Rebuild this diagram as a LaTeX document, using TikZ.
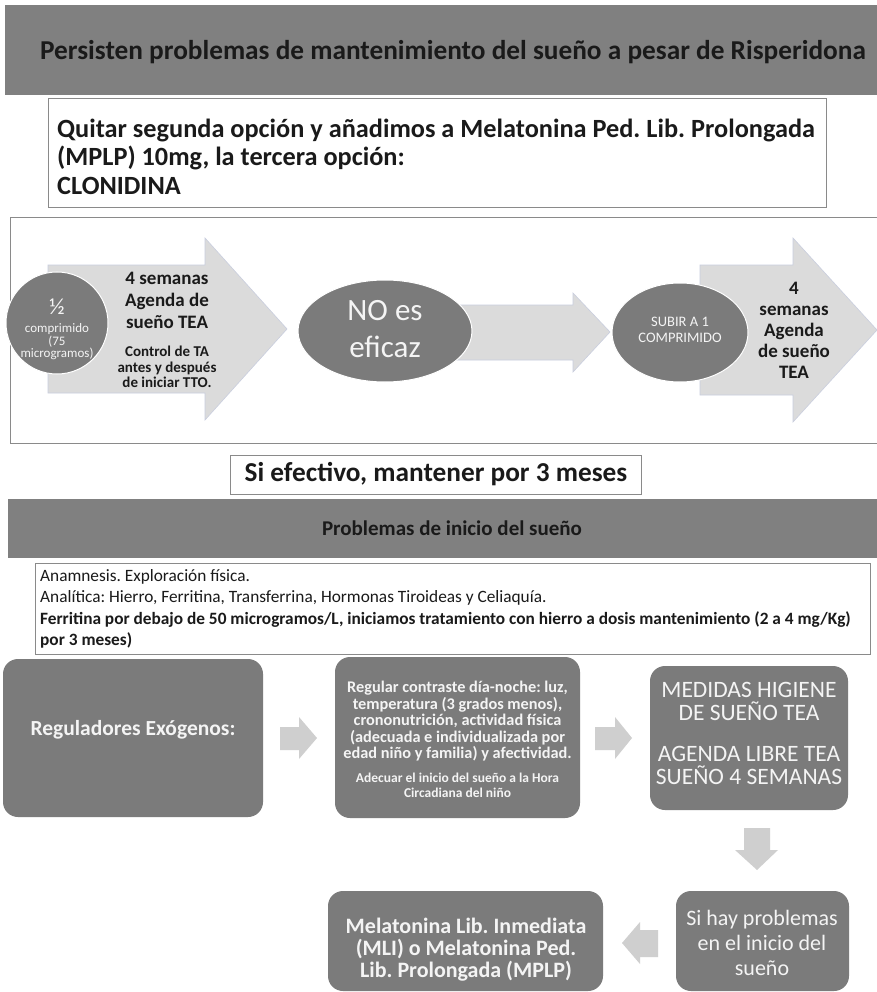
\documentclass[tikz,border=0pt]{standalone}
\usepackage{fontspec}
\setmainfont{Carlito}
\usetikzlibrary{shapes.geometric}
\definecolor{banner}{HTML}{808080}
\definecolor{dark}{HTML}{7B7B7B}
\definecolor{light}{HTML}{DBDBDB}
\definecolor{lightedge}{HTML}{C9CEDE}
\definecolor{small}{HTML}{CFCFCF}
\definecolor{txt}{HTML}{1A1A1A}
\definecolor{wtxt}{HTML}{F4F4F4}
\definecolor{boxedge}{HTML}{8A8A8A}
\newcommand\fsz[2]{\fontsize{#1}{#2}\selectfont}
\frenchspacing
\begin{document}
\begin{tikzpicture}[x=1pt,y=-1pt,
  bannerbox/.style={fill=banner,draw=none,inner sep=0},
  framebox/.style={draw=boxedge,line width=0.8pt,fill=white,inner sep=0},
  darkbox/.style={fill=dark,draw=none,rounded corners=15pt,inner sep=0},
  oval/.style={ellipse,fill=dark,draw=white,line width=1pt,inner sep=0},
  bigarrow/.style={fill=light,draw=lightedge,line width=0.6pt},
  smallarrow/.style={fill=small,draw=none},
  headtxt/.style={font=\bfseries\fsz{27.3}{32},text=txt,inner sep=0},
  wtext/.style={text=wtxt,align=center,inner sep=0},
  btext/.style={text=txt,align=center,inner sep=0}]
\useasboundingbox (0,0) rectangle (877,992);
\fill[white] (0,0) rectangle (877,992);

% top banner
\node[bannerbox,minimum width=876pt,minimum height=90pt] (ban1) at (443,50) {};
\node[headtxt] (ban1t) at (453,52) {Persisten problemas de mantenimiento del sueño a pesar de Risperidona};

% box 2
\node[framebox,minimum width=778pt,minimum height=109pt] (b2) at (437,152.5) {};
\node[anchor=west,align=left,inner sep=0,text=txt,font=\bfseries\fsz{26.3}{28.5}] (b2t) at (57,156.5)
  {Quitar segunda opción y añadimos a Melatonina Ped. Lib. Prolongada\\(MPLP) 10mg, la tercera opción:\\CLONIDINA};

% frame
\node[framebox,minimum width=870pt,minimum height=226pt] (frame) at (445,330) {};

% arrow 1
\fill[bigarrow] (48,265) -- (205,265) -- (205,238) -- (287,329) -- (205,420) -- (205,393) -- (48,393) -- cycle;
\node[circle,fill=dark,draw=white,line width=1pt,minimum size=102pt,inner sep=0] (half) at (57,323) {};
\node[wtext,font=\fsz{23}{22}] (halft) at (57,307) {½};
\node[wtext,font=\fsz{13}{12.5}] (halfs) at (57,342) {comprimido\\(75\\microgramos)};
\node[btext,font=\bfseries\fsz{19}{22}] (a1t) at (167,300) {4 semanas\\Agenda de\\sueño TEA};
\node[btext,font=\bfseries\fsz{15}{15.5}] (a1s) at (167,367) {Control de TA\\antes y después\\de iniciar TTO.};

% arrow 2
\fill[bigarrow] (440,305) -- (573,305) -- (573,293) -- (610,332) -- (573,372) -- (573,360) -- (440,360) -- cycle;
\node[oval,minimum width=174pt,minimum height=102pt] (noef) at (385,331) {};
\node[wtext,font=\fsz{31}{37}] (noeft) at (385,329) {NO es\\eficaz};

% arrow 3
\fill[bigarrow] (700,265) -- (793,265) -- (793,238) -- (877,330) -- (793,422) -- (793,395) -- (700,395) -- cycle;
\node[oval,minimum width=136pt,minimum height=99pt] (subir) at (680,332.5) {};
\node[wtext,font=\fsz{14.5}{16}] (subirt) at (680,330) {SUBIR A 1\\COMPRIMIDO};
\node[btext,font=\bfseries\fsz{19}{21}] (a3t) at (794,330) {4\\semanas\\Agenda\\de sueño\\TEA};

% si efectivo
\node[framebox,minimum width=411pt,minimum height=39pt] (sief) at (435.5,474.5) {};
\node[headtxt] (sieft) at (436,474) {Si efectivo, mantener por 3 meses};

% banner 2
\node[bannerbox,minimum width=872pt,minimum height=59pt] (ban2) at (444,528.5) {};
\node[headtxt,font=\bfseries\fsz{21}{25}] (ban2t) at (452,528) {Problemas de inicio del sueño};

% text box 3
\node[framebox,draw=boxedge,minimum width=835pt,minimum height=91pt] (b3) at (452.5,608.5) {};
\node[anchor=west,align=left,inner sep=0,text=txt,font=\fsz{17.3}{21.5}] (b3t) at (40,609)
  {Anamnesis. Exploración física.\\
   Analítica: Hierro, Ferritina, Transferrina, Hormonas Tiroideas y Celiaquía.\\
   \textbf{Ferritina por debajo de 50 microgramos/L, iniciamos tratamiento con hierro a dosis mantenimiento (2 a 4 mg/Kg)}\\
   \textbf{por 3 meses)}};

% bottom flow
\node[darkbox,minimum width=260pt,minimum height=158pt] (reg) at (133,738) {};
\node[wtext,font=\bfseries\fsz{21.5}{25}] (regt) at (133,730) {Reguladores Exógenos:};
\fill[smallarrow] (280,727) -- (299,727) -- (299,717) -- (317,738) -- (299,759) -- (299,750) -- (280,750) -- cycle;

\node[darkbox,minimum width=245pt,minimum height=161pt] (cont) at (457.5,737.5) {};
\node[wtext,font=\bfseries\fsz{16.3}{16.5}] (contt) at (457.5,721.5)
  {Regular contraste día-noche: luz,\\temperatura (3 grados menos),\\crononutrición, actividad física\\(adecuada e individualizada por\\edad niño y familia) y afectividad.};
\node[wtext,font=\bfseries\fsz{13.5}{15}] (conts) at (457.5,785) {Adecuar el inicio del sueño a la Hora\\Circadiana del niño};
\fill[smallarrow] (595,727) -- (615,727) -- (615,717) -- (632,738) -- (615,759) -- (615,750) -- (595,750) -- cycle;

\node[darkbox,minimum width=198pt,minimum height=144pt] (med) at (749,738) {};
\node[wtext,font=\fsz{23.5}{23}] (medt) at (749,701.5) {MEDIDAS HIGIENE\\DE SUEÑO TEA};
\node[wtext,font=\fsz{23.5}{23}] (meds) at (749,765) {AGENDA LIBRE TEA\\SUEÑO 4 SEMANAS};

\fill[smallarrow] (744,828) -- (770,828) -- (770,850) -- (778,850) -- (757,870) -- (735,850) -- (744,850) -- cycle;

\node[darkbox,minimum width=173pt,minimum height=100pt] (sihay) at (762.5,941) {};
\node[wtext,font=\fsz{22}{25}] (sihayt) at (762,942.5) {Si hay problemas\\en el inicio del\\sueño};

\fill[smallarrow] (658,930) -- (640,930) -- (640,922) -- (622,943) -- (640,964) -- (640,957) -- (658,957) -- cycle;

\node[darkbox,minimum width=275pt,minimum height=100pt] (mel) at (465.5,941) {};
\node[wtext,font=\bfseries\fsz{22}{22}] (melt) at (466,950) {Melatonina Lib. Inmediata\\(MLI) o Melatonina Ped.\\Lib. Prolongada (MPLP)};
\end{tikzpicture}
\end{document}
